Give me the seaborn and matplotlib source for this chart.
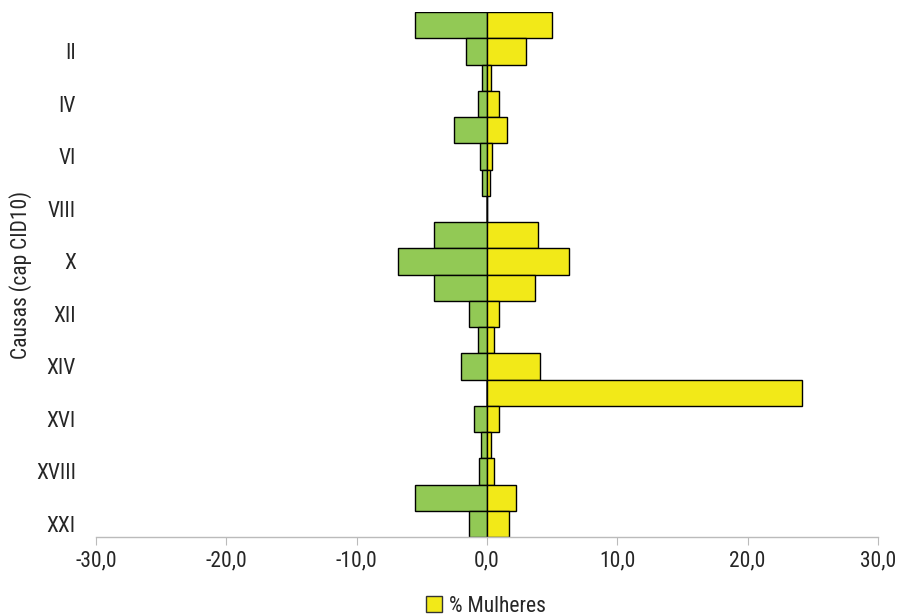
import matplotlib
matplotlib.use("Agg")
import matplotlib.pyplot as plt
from matplotlib import font_manager
import seaborn as sns
import pandas as pd
from matplotlib.patches import Patch

causes = ["I", "II", "III", "IV", "V", "VI", "VII", "VIII", "IX", "X",
          "XI", "XII", "XIII", "XIV", "XV", "XVI", "XVII", "XVIII", "XIX", "XXI"]
homens = [-5.5, -1.6, -0.35, -0.7, -2.5, -0.5, -0.35, 0.0, -4.1, -6.8,
          -4.1, -1.4, -0.7, -2.0, 0.0, -1.0, -0.45, -0.65, -5.5, -1.35]
mulheres = [5.0, 3.0, 0.3, 0.9, 1.5, 0.4, 0.25, 0.0, 3.9, 6.3,
            3.7, 0.95, 0.5, 4.1, 24.2, 0.95, 0.3, 0.5, 2.2, 1.7]
x_ticks = [-30, -20, -10, 0, 10, 20, 30]
x_tick_labels = ["-30,0", "-20,0", "-10,0", "0,0", "10,0", "20,0", "30,0"]

green = "#92C955"
yellow = "#F2E918"

df = pd.DataFrame({
    "causa": causes * 2,
    "valor": homens + mulheres,
    "sexo": ["% Homens"] * len(causes) + ["% Mulheres"] * len(causes),
})

sns.set_style("white")
names = {f.name for f in font_manager.fontManager.ttflist}
family = "DejaVu Sans"
for cand in ["Roboto Condensed", "Liberation Sans Narrow", "Open Sans Condensed"]:
    if cand in names:
        family = cand
        break
plt.rcParams["font.family"] = [family, "DejaVu Sans"]

FS = 15.5

fig = plt.figure(figsize=(8.98, 6.15), dpi=100)
ax = fig.add_axes([96 / 898, 1 - 537 / 615, (878 - 96) / 898, (537 - 12) / 615])

sns.barplot(data=df, x="valor", y="causa", hue="sexo", order=causes,
            palette={"% Homens": green, "% Mulheres": yellow}, saturation=1,
            dodge=False, width=1.0, edgecolor="black", linewidth=1.0,
            orient="h", ax=ax, legend=False)

ax.set_xlim(-30, 30)
ax.set_ylim(len(causes) - 0.5, -0.5)
ax.axvline(0, color="#555555", linewidth=1.2, zorder=0.5)

ax.set_xticks(x_ticks)
ax.set_xticklabels(x_tick_labels, fontsize=FS)
pos = list(range(len(causes)))
ax.set_yticks(pos[1::2])
ax.set_yticklabels(causes[1::2], fontsize=FS)
ax.tick_params(axis="y", length=0, pad=14.5)
ax.tick_params(axis="x", length=6, color="#BBBBBB", direction="out", pad=4, bottom=True)

for s in ["top", "right", "left"]:
    ax.spines[s].set_visible(False)
ax.spines["bottom"].set_color("#BBBBBB")
ax.spines["bottom"].set_linewidth(1.0)

ax.set_xlabel("")
ax.set_ylabel("Causas (cap CID10)", fontsize=FS, labelpad=3)

handles = [Patch(facecolor=yellow, edgecolor="#333333", label="% Mulheres")]
fig.legend(handles=handles, loc="center", bbox_to_anchor=(486 / 898, 1 - 606 / 615),
           frameon=False, fontsize=FS, handlelength=0.75, handleheight=0.75,
           handletextpad=0.3, borderpad=0.1)

fig.savefig("out.png", dpi=100)
